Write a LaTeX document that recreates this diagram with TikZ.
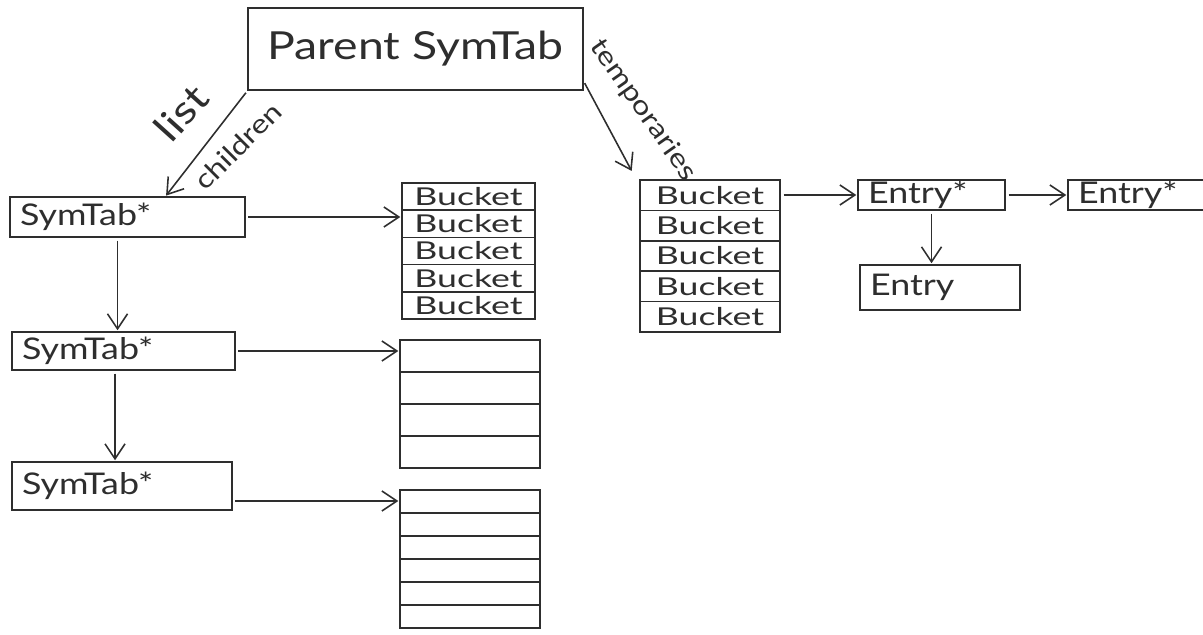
\documentclass[tikz,border=0pt]{standalone}
\usepackage{fontspec}
\setmainfont{Lato}[FakeStretch=1.2]
\newfontfamily\largo{Lato}[FakeStretch=1.45]
\usetikzlibrary{arrows.meta,positioning}
\definecolor{tinta}{HTML}{2E2E2E}

\begin{document}
\begin{tikzpicture}[
  x=0.02cm, y=-0.02cm, line width=0.9pt, draw=tinta,
  every node/.style={text=tinta, inner sep=0pt, outer sep=0pt},
  seta/.style={-{Straight Barb[length=0.3cm,width=0.4cm]}, shorten <=2pt, shorten >=1pt}
]
\tikzset{
  caixa/.style={draw, rectangle, align=left, inner xsep=0.2cm, font=\fontsize{17}{20}\selectfont},
  celula/.style 2 args={draw, rectangle, minimum width=#1, minimum height=#2, font=\largo\fontsize{14}{15}\selectfont},
  rotulo/.style={font=\fontsize{15}{18}\selectfont}
}
\useasboundingbox (0,0) rectangle (1203,635);

\node[draw, minimum width=6.7cm, minimum height=1.64cm, font=\fontsize{22}{26}\selectfont] (pai) at (415.5,49) {Parent SymTab};

\node[caixa, text width=4.3cm, minimum height=0.8cm] (st1) at (127.5,217) {SymTab*};
\node[caixa, text width=4.06cm, minimum height=0.76cm] (st2) at (123.5,351) {SymTab*};
\node[caixa, text width=4cm, minimum height=0.96cm] (st3) at (122,486) {SymTab*};

\node[celula={2.66cm}{0.544cm}] (a1) at (468.5,196.6) {Bucket};
\foreach \i [remember=\i as \j (initially 1)] in {2,...,5}
  \node[celula={2.66cm}{0.544cm}, below=0pt of a\j] (a\i) {Bucket};

\node[celula={2.8cm}{0.64cm}] (v1) at (470,356) {};
\foreach \i [remember=\i as \j (initially 1)] in {2,...,4}
  \node[celula={2.8cm}{0.64cm}, below=0pt of v\j] (v\i) {};

\node[celula={2.8cm}{0.46cm}] (w1) at (470,501.5) {};
\foreach \i [remember=\i as \j (initially 1)] in {2,...,6}
  \node[celula={2.8cm}{0.46cm}, below=0pt of w\j] (w\i) {};

\node[celula={2.8cm}{0.608cm}] (t1) at (710,195.2) {Bucket};
\foreach \i [remember=\i as \j (initially 1)] in {2,...,5}
  \node[celula={2.8cm}{0.608cm}, below=0pt of t\j] (t\i) {Bucket};

\node[caixa, text width=2.54cm, minimum height=0.6cm] (e1) at (931.5,195) {Entry*};
\node[caixa, text width=2.44cm, minimum height=0.6cm] (e2) at (1139,195) {Entry*};
\node[caixa, text width=2.8cm, minimum height=0.9cm] (e3) at (940,287.5) {Entry};

\node[rotulo, rotate=48, font=\fontsize{22}{24}\selectfont] (lista) at (181,113) {list};
\node[rotulo, rotate=45] (filhos) at (238,146) {children};
\node[rotulo, rotate=-55] (temp) at (643,110) {temporaries};

\coordinate (s3) at ([yshift=-0.3cm]st3.east);

\draw[seta] (pai.south west) -- ([xshift=0.75cm]st1.north);
\draw[seta] ([yshift=0.2cm]pai.south east) -- ([shift={(-0.15cm,0.15cm)}]t1.north west);
\draw[seta] ([xshift=-0.2cm]st1.south) -- ([xshift=-0.2cm]st1.south |- st2.north);
\draw[seta] ([xshift=-0.17cm]st2.south) -- ([xshift=-0.17cm]st2.south |- st3.north);
\draw[seta] (st1.east) -- (st1.east -| a1.west);
\draw[seta] (st2.east) -- (st2.east -| v1.west);
\draw[seta] (s3) -- (s3 -| w1.west);
\draw[seta] (t1.east |- e1.west) -- (e1.west);
\draw[seta] (e1) -- (e2);
\draw[seta] (e1.south) -- (e1.south |- e3.north);
\end{tikzpicture}
\end{document}
